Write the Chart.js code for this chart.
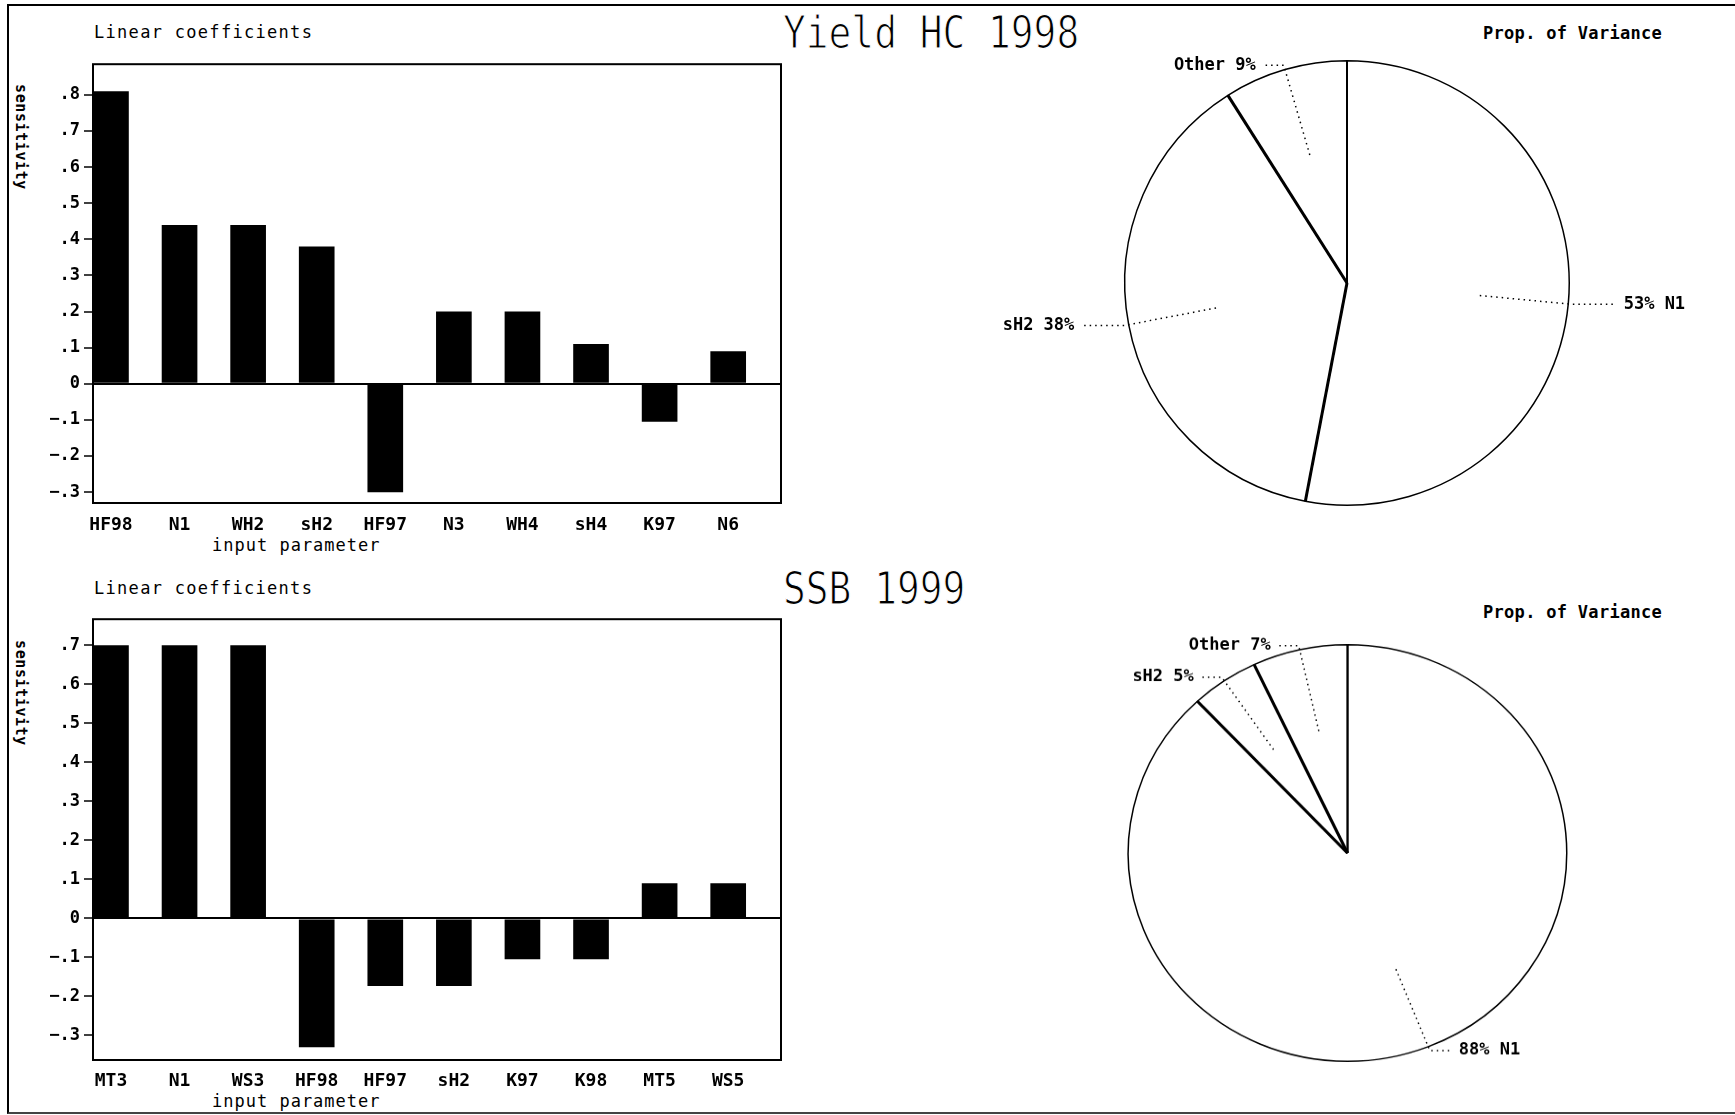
<!DOCTYPE html>
<html>
<head>
<meta charset="utf-8">
<script src="https://cdn.jsdelivr.net/npm/chart.js@4.4.1/dist/chart.umd.min.js"></script>
<style>
	html, body { margin: 0; padding: 0; background: #fff; }
	body { width: 1735px; height: 1115px; position: relative; overflow: hidden; font-family: "DejaVu Sans Mono", monospace; color: #000; }
	.abs { position: absolute; white-space: nowrap; line-height: 1; }
	.frame { position: absolute; left: 7px; top: 4px; width: 1726px; height: 1106px; border-top: 2px solid #000; border-left: 2px solid #000; border-bottom: 2px solid #444; }
	.sub { font-size: 17px; letter-spacing: 1.3px; }
	.big { font-size: 44px; transform: scaleX(0.86); transform-origin: left top; -webkit-text-stroke: 1.2px #fff; }
	.prop { font-size: 17px; font-weight: bold; letter-spacing: 0.3px; }
	.ytitle { writing-mode: vertical-rl; font-size: 15px; font-weight: bold; letter-spacing: 0.6px; }
	.xtitle { font-size: 17px; letter-spacing: 1px; }
	canvas { position: absolute; }
</style>
</head>
<body>
<div class="frame"></div>

<div class="abs sub" style="left:94px;top:24px;">Linear coefficients</div>
<div class="abs big" style="left:783px;top:11px;">Yield HC 1998</div>
<div class="abs prop" style="left:1483px;top:25px;">Prop. of Variance</div>
<div class="abs ytitle" style="left:13px;top:84px;">sensitivity</div>
<div class="abs xtitle" style="left:212px;top:537px;">input parameter</div>

<div class="abs sub" style="left:94px;top:580px;">Linear coefficients</div>
<div class="abs big" style="left:783px;top:567px;">SSB 1999</div>
<div class="abs prop" style="left:1483px;top:604px;">Prop. of Variance</div>
<div class="abs ytitle" style="left:13px;top:640px;">sensitivity</div>
<div class="abs xtitle" style="left:212px;top:1093px;">input parameter</div>

<canvas id="barYield" width="780" height="520" style="left:8px;top:50px;"></canvas>
<canvas id="barSSB" width="780" height="520" style="left:8px;top:605px;"></canvas>
<canvas id="pieYield" width="735" height="570" style="left:1000px;top:0px;"></canvas>
<canvas id="pieSSB" width="735" height="600" style="left:1000px;top:553px;transform:scaleY(0.95);transform-origin:347.5px 300px;"></canvas>

<script>
// ---- data ----
var yieldParams = ['HF98', 'N1', 'WH2', 'sH2', 'HF97', 'N3', 'WH4', 'sH4', 'K97', 'N6'];
var yieldCoef = [0.81, 0.44, 0.44, 0.38, -0.30, 0.20, 0.20, 0.11, -0.105, 0.09];

var ssbParams = ['MT3', 'N1', 'WS3', 'HF98', 'HF97', 'sH2', 'K97', 'K98', 'MT5', 'WS5'];
var ssbCoef = [0.70, 0.70, 0.70, -0.33, -0.173, -0.173, -0.105, -0.105, 0.09, 0.09];

var yieldVarLabels = ['N1', 'sH2', 'Other'];
var yieldVarPct = [53, 38, 9];

var ssbVarLabels = ['N1', 'sH2', 'Other'];
var ssbVarPct = [88, 5, 7];

Chart.defaults.font.family = '"DejaVu Sans Mono", monospace';
Chart.defaults.color = '#000';

/** Black box round the plot area */
var frameBox = {
	id: 'frameBox',
	afterDraw: function(chart) {
		var a = chart.chartArea;
		var ctx = chart.ctx;
		ctx.save();
		ctx.lineWidth = 2;
		ctx.strokeStyle = '#000';
		ctx.strokeRect(a.left, a.top, a.right - a.left, a.bottom - a.top);
		ctx.restore();
	}
};

/** Tick format like the old plotter: .8, 0, -.1 */
function shortTick(v) {
	var s = (Math.round(v * 10) / 10).toString();
	return s.replace('0.', '.').replace('-', '\u2212');
}

function drawBars(id, params, coef, yMin, yMax, xHeight, xPad) {
	var ctx = document.getElementById(id).getContext('2d');
	var points = [];
	for (var i = 0; i < coef.length; i++) {
		points.push({ x: i, y: coef[i] });
	}
	return new Chart(ctx, {
		type: 'bar',
		data: {
			datasets: [{
				data: points,
				backgroundColor: '#000',
				borderWidth: 0,
				categoryPercentage: 1,
				barPercentage: 0.52
			}]
		},
		options: {
			responsive: false,
			animation: false,
			devicePixelRatio: 1,
			events: [],
			layout: { padding: { left: 0, top: 11, right: 7, bottom: 0 } },
			plugins: { legend: { display: false }, tooltip: { enabled: false } },
			scales: {
				x: {
					type: 'linear',
					offset: false,
					min: -0.262,
					max: 9.77,
					border: { display: false },
					grid: { display: false, drawTicks: false, offset: false },
					afterFit: function(scale) { scale.height = xHeight; },
					ticks: {
						stepSize: 1,
						includeBounds: false,
						autoSkip: false,
						maxRotation: 0,
						padding: xPad,
						font: { size: 18, weight: 'bold' },
						callback: function(v) { return params[v]; }
					}
				},
				y: {
					min: yMin,
					max: yMax,
					border: { display: false },
					grid: {
						color: function(c) { return c.tick && c.tick.value === 0 ? '#000' : 'rgba(0,0,0,0)'; },
						lineWidth: 2,
						tickColor: '#000',
						tickWidth: 1.5,
						tickLength: 9
					},
					afterFit: function(scale) { scale.width = 85; },
					ticks: {
						stepSize: 0.1,
						includeBounds: false,
						padding: 4,
						font: { size: 17, weight: 'bold' },
						callback: shortTick
					}
				}
			}
		},
		plugins: [frameBox]
	});
}

/** Thick slice edges, dotted leaders and the "name pct%" labels */
var pieLeaders = {
	id: 'pieLeaders',
	afterDatasetsDraw: function(chart) {
		var ctx = chart.ctx;
		var meta = chart.getDatasetMeta(0);
		var labels = chart.data.labels;
		var values = chart.data.datasets[0].data;
		ctx.save();
		ctx.strokeStyle = '#000';
		ctx.fillStyle = '#000';
		meta.data.forEach(function(arc, i) {
			var p = arc.getProps(['x', 'y', 'startAngle', 'outerRadius'], true);
			ctx.beginPath();
			// the 12 o'clock edge is drawn thinner than the others
			ctx.lineWidth = i === 0 ? 2 : 3;
			ctx.moveTo(p.x, p.y);
			ctx.lineTo(p.x + Math.cos(p.startAngle) * p.outerRadius, p.y + Math.sin(p.startAngle) * p.outerRadius);
			ctx.stroke();
		});
		ctx.font = 'bold 17px "DejaVu Sans Mono", monospace';
		ctx.textBaseline = 'middle';
		meta.data.forEach(function(arc, i) {
			var p = arc.getProps(['x', 'y', 'startAngle', 'endAngle', 'outerRadius'], true);
			var mid = (p.startAngle + p.endAngle) / 2;
			var cos = Math.cos(mid), sin = Math.sin(mid), r = p.outerRadius;
			var right = cos >= 0;
			var elbow = Math.abs(cos) > 0.9 ? 44 : 22;
			var x0 = p.x + cos * r * 0.6, y0 = p.y + sin * r * 0.6;
			var x1 = p.x + cos * r * 1.02, y1 = p.y + sin * r * 1.02;
			var x2 = x1 + (right ? elbow : -elbow);
			ctx.beginPath();
			ctx.lineWidth = 1.5;
			ctx.setLineDash([1.5, 4]);
			ctx.moveTo(x0, y0);
			ctx.lineTo(x1, y1);
			ctx.lineTo(x2, y1);
			ctx.stroke();
			if (right) {
				ctx.textAlign = 'left';
				ctx.fillText(values[i] + '% ' + labels[i], x2 + 7, y1);
			} else {
				ctx.textAlign = 'right';
				ctx.fillText(labels[i] + ' ' + values[i] + '%', x2 - 6, y1);
			}
		});
		ctx.restore();
	}
};

function drawPie(id, labels, pct, pad) {
	var ctx = document.getElementById(id).getContext('2d');
	return new Chart(ctx, {
		type: 'pie',
		data: {
			labels: labels,
			datasets: [{
				data: pct,
				backgroundColor: '#fff',
				borderColor: '#000',
				borderWidth: 1.5
			}]
		},
		options: {
			responsive: false,
			animation: false,
			devicePixelRatio: 1,
			events: [],
			layout: { padding: pad },
			plugins: { legend: { display: false }, tooltip: { enabled: false } }
		},
		plugins: [pieLeaders]
	});
}

drawBars('barYield', yieldParams, yieldCoef, -0.33, 0.885, 67, 12);
drawBars('barSSB', ssbParams, ssbCoef, -0.363, 0.767, 65, 11);
drawPie('pieYield', yieldVarLabels, yieldVarPct, { left: 124, top: 60, right: 165, bottom: 64 });
drawPie('pieSSB', ssbVarLabels, ssbVarPct, { left: 127.5, top: 80, right: 167.5, bottom: 80 });
</script>
</body>
</html>
